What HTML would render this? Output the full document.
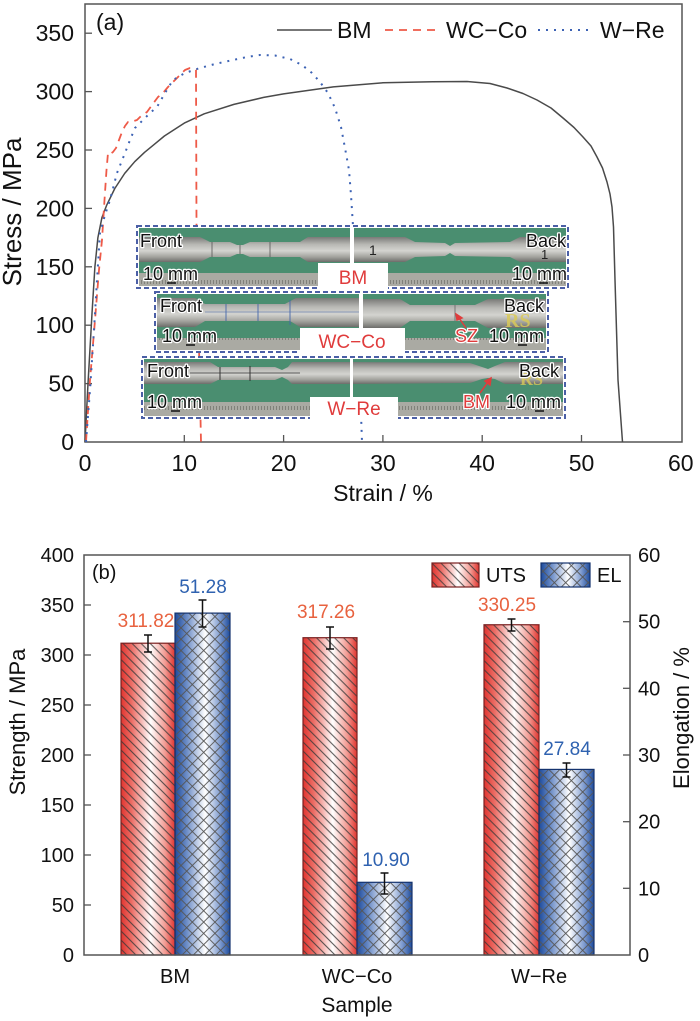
<!DOCTYPE html>
<html><head><meta charset="utf-8"><style>html,body{margin:0;padding:0;background:#fff}svg{display:block}</style></head>
<body>
<svg width="700" height="1021" viewBox="0 0 700 1021" xmlns="http://www.w3.org/2000/svg" font-family="'Liberation Sans', Arial, sans-serif">
<defs>
  <linearGradient id="gU" x1="0" y1="0" x2="1" y2="0">
    <stop offset="0" stop-color="#e0342f"/><stop offset="0.2" stop-color="#ec6e66"/>
    <stop offset="0.55" stop-color="#ffffff"/><stop offset="0.82" stop-color="#f29a92"/>
    <stop offset="1" stop-color="#e0342f"/>
  </linearGradient>
  <linearGradient id="gE" x1="0" y1="0" x2="1" y2="0">
    <stop offset="0" stop-color="#1d4b9c"/><stop offset="0.22" stop-color="#6f8fc8"/>
    <stop offset="0.55" stop-color="#ffffff"/><stop offset="0.82" stop-color="#7f9cd0"/>
    <stop offset="1" stop-color="#1d4b9c"/>
  </linearGradient>
  <pattern id="hU" width="6.4" height="6.4" patternUnits="userSpaceOnUse" patternTransform="rotate(45)">
    <line x1="0" y1="3.2" x2="6.4" y2="3.2" stroke="#3a3a3a" stroke-width="0.9"/>
  </pattern>
  <pattern id="hE" width="8" height="8" patternUnits="userSpaceOnUse" patternTransform="rotate(45)">
    <line x1="0" y1="4" x2="8" y2="4" stroke="#555" stroke-width="0.9"/>
    <line x1="4" y1="0" x2="4" y2="8" stroke="#555" stroke-width="0.9"/>
  </pattern>
  <linearGradient id="spec" x1="0" y1="0" x2="0" y2="1">
    <stop offset="0" stop-color="#7a7a78"/><stop offset="0.3" stop-color="#b8b8b4"/>
    <stop offset="0.55" stop-color="#d4d4d0"/><stop offset="0.8" stop-color="#a2a29d"/>
    <stop offset="1" stop-color="#6d6d6a"/>
  </linearGradient>
  <pattern id="rt" width="3" height="14" patternUnits="userSpaceOnUse">
    <rect x="0" y="0" width="3" height="14" fill="#aaaaa3"/>
    <line x1="0.5" y1="0" x2="0.5" y2="4" stroke="#77776f" stroke-width="0.8"/>
  </pattern>
</defs>

<!-- ============ TOP CHART ============ -->
<rect x="85" y="4" width="597" height="438" fill="none" stroke="#555" stroke-width="1.5"/>
<g stroke="#555" stroke-width="1.3">
  <line x1="85" y1="383.6" x2="92" y2="383.6"/><line x1="85" y1="325.2" x2="92" y2="325.2"/>
  <line x1="85" y1="266.8" x2="92" y2="266.8"/><line x1="85" y1="208.4" x2="92" y2="208.4"/>
  <line x1="85" y1="150" x2="92" y2="150"/><line x1="85" y1="91.6" x2="92" y2="91.6"/>
  <line x1="85" y1="33.2" x2="92" y2="33.2"/>
  <line x1="184.3" y1="442" x2="184.3" y2="435"/><line x1="283.6" y1="442" x2="283.6" y2="435"/>
  <line x1="382.9" y1="442" x2="382.9" y2="435"/><line x1="482.2" y1="442" x2="482.2" y2="435"/>
  <line x1="581.5" y1="442" x2="581.5" y2="435"/>
</g>
<g font-size="23" fill="#111" text-anchor="end">
  <text x="74" y="450">0</text><text x="74" y="391.6">50</text><text x="74" y="333.2">100</text>
  <text x="74" y="274.8">150</text><text x="74" y="216.4">200</text><text x="74" y="158">250</text>
  <text x="74" y="99.6">300</text><text x="74" y="41.2">350</text>
</g>
<g font-size="23" fill="#111" text-anchor="middle">
  <text x="85" y="471">0</text><text x="184.3" y="471">10</text><text x="283.6" y="471">20</text>
  <text x="382.9" y="471">30</text><text x="482.2" y="471">40</text><text x="581.5" y="471">50</text>
  <text x="680.8" y="471">60</text>
  <text x="383" y="501">Strain / %</text>
</g>
<text transform="translate(21,212) rotate(-90)" font-size="26" fill="#111" text-anchor="middle">Stress / MPa</text>
<text x="96" y="30" font-size="23" fill="#111">(a)</text>

<!-- legend -->
<line x1="277" y1="30" x2="332" y2="30" stroke="#4a4a4a" stroke-width="1.5"/>
<text x="337" y="38" font-size="23" fill="#111">BM</text>
<line x1="385" y1="30" x2="440" y2="30" stroke="#ee5a48" stroke-width="1.8" stroke-dasharray="8 6"/>
<text x="446" y="38" font-size="23" fill="#111">WC−Co</text>
<line x1="538" y1="30" x2="589" y2="30" stroke="#3c62b4" stroke-width="2" stroke-dasharray="2 6"/>
<text x="600" y="38" font-size="23" fill="#111">W−Re</text>

<!-- curves -->
<polyline fill="none" stroke="#4a4a4a" stroke-width="1.5" stroke-linejoin="round"
 points="85,442 88,383.6 92,313.5 94.9,266.8 97.9,237.6 101.9,217.7 106.8,204.9 114.8,188.5 124.7,173.4 134.7,161.7 144.6,152.3 154.5,144.2 164.4,136 184.3,123.1 204.2,113.8 233.9,104.4 263.7,97.4 283.6,93.9 333.3,86.9 382.9,82.8 432.6,81.8 467,81.5 490,83.5 507,88 523,93.5 537,100 551,108 563,118 574,127.5 583,137 591,146 597,157 602.5,168 607,182 610,194 612,207 613.5,227 615,280 618,380 622.5,442"/>
<polyline fill="none" stroke="#ee5a48" stroke-width="1.8" stroke-dasharray="8 6" stroke-linejoin="round"
 points="86,442 90,380 95,320 99,270 102,240 104.5,200 106.5,170 108,153 110,154 113,152 116,148 119,140 122,132 125,126 128,122 131,122 134,121 137,120 141,116 147,112 152,105 158,97 163,93 168,87 173,82 178,77 185,70 190,68 194,69 196,70 196.5,226 201,442"/>
<polyline fill="none" stroke="#3c62b4" stroke-width="2" stroke-dasharray="2 6" stroke-linejoin="round"
 points="86,442 90,390 94,330 97,280 100,233 105,215 110,200 117,173 125,153 130,140 135,128 143,120 150,113 157,107 165,93 173,80 185,73 200,68 215,64 233,60 247,57 260,55 275,55.5 290,59 302,65 312,73 320,82 328,93 335,108 341,127 345,148 349,170 351,195 353,226 358,330 362,442"/>

<!-- ===== inset photos ===== -->
<g>
  <!-- Row 1 -->
  <rect x="137" y="226" width="431" height="62" fill="#fff"/>
  <rect x="139" y="228" width="211" height="58" fill="#4a8e70"/>
  <polygon fill="url(#spec)" points="139,237 200,237 210,242 230,242 237,245 243,245 250,242 300,242 308,237 350,237 350,262 308,262 300,257 250,257 243,254 237,254 230,257 210,257 200,262 139,262"/>
  <g stroke="#555" stroke-width="0.8"><line x1="212" y1="242" x2="212" y2="257"/><line x1="240" y1="245" x2="240" y2="254"/><line x1="270" y1="242" x2="270" y2="257"/></g>
  <rect x="139" y="273" width="211" height="13" fill="url(#rt)"/>
  <rect x="354" y="228" width="212" height="58" fill="#4a8e70"/>
  <polygon fill="url(#spec)" points="354,237 405,237 415,242 445,243 450,246 455,243 510,242 520,237 566,237 566,262 520,262 510,257 455,256 450,253 445,256 415,257 405,262 354,262"/>
  <rect x="354" y="273" width="212" height="13" fill="url(#rt)"/>
  <text x="369" y="255" font-size="14" fill="#222">1</text><text x="541" y="259" font-size="13" fill="#222">1</text>
  <rect x="137" y="226" width="431" height="62" fill="none" stroke="#4b5fa6" stroke-width="2" stroke-dasharray="5 3"/>
  <rect x="318" y="263" width="70" height="27" fill="#fff"/>
  <text x="353" y="284" font-size="19" fill="#e03c3c" text-anchor="middle">BM</text>

  <!-- Row 2 -->
  <rect x="155" y="292" width="393" height="60" fill="#fff"/>
  <rect x="157" y="294" width="202" height="56" fill="#4a8e70"/>
  <polygon fill="url(#spec)" points="157,298 195,298 205,304 285,304 296,298 359,298 359,327 300,327 290,321 205,321 195,327 157,327"/>
  <g stroke="#4466aa" stroke-width="0.9"><line x1="226" y1="304" x2="226" y2="321"/><line x1="258" y1="304" x2="258" y2="321"/><line x1="290" y1="300" x2="290" y2="325"/><line x1="205" y1="312" x2="359" y2="312" stroke-width="0.5"/></g>
  <rect x="157" y="338" width="202" height="12" fill="url(#rt)"/>
  <rect x="363" y="294" width="183" height="56" fill="#4a8e70"/>
  <polygon fill="url(#spec)" points="363,299 400,299 410,305 475,305 488,299 546,299 546,328 488,328 475,321 410,321 400,328 363,328"/>
  <line x1="455" y1="305" x2="455" y2="321" stroke="#666" stroke-width="0.8"/>
  <rect x="363" y="338" width="183" height="12" fill="url(#rt)"/>
  <text x="505" y="327" font-size="20" font-weight="bold" font-family="'Liberation Serif', serif" fill="#d9c95a" opacity="0.85">RS</text>
  <rect x="155" y="292" width="393" height="60" fill="none" stroke="#4b5fa6" stroke-width="2" stroke-dasharray="5 3"/>
  <rect x="300" y="328" width="105" height="26" fill="#fff"/>
  <text x="352" y="348" font-size="19" fill="#e03c3c" text-anchor="middle">WC−Co</text>

  <!-- Row 3 -->
  <rect x="142" y="357" width="423" height="61" fill="#fff"/>
  <rect x="144" y="359" width="206" height="57" fill="#4a8e70"/>
  <polygon fill="url(#spec)" points="144,362 210,362 218,367 275,367 282,370 288,367 292,362 350,362 350,384 292,384 288,380 282,377 275,380 218,380 210,384 144,384"/>
  <g stroke="#333" stroke-width="1"><line x1="220" y1="367" x2="220" y2="380"/><line x1="250" y1="366" x2="250" y2="381"/><line x1="190" y1="373" x2="300" y2="373" stroke-width="0.8"/></g>
  <rect x="144" y="402" width="206" height="14" fill="url(#rt)"/>
  <rect x="353" y="359" width="210" height="57" fill="#4a8e70"/>
  <polygon fill="url(#spec)" points="353,362 470,363 482,367 488,369 495,366 505,362 563,362 563,384 505,384 495,379 488,378 482,379 470,383 353,384"/>
  <rect x="353" y="402" width="210" height="14" fill="url(#rt)"/>
  <text x="520" y="385" font-size="18" font-weight="bold" font-family="'Liberation Serif', serif" fill="#d9c95a" opacity="0.8">RS</text>
  <rect x="142" y="357" width="423" height="61" fill="none" stroke="#4b5fa6" stroke-width="2" stroke-dasharray="5 3"/>
  <rect x="310" y="397" width="88" height="23" fill="#fff"/>
  <text x="354" y="415" font-size="19" fill="#e03c3c" text-anchor="middle">W−Re</text>

  <!-- photo labels -->
  <g font-size="18" fill="#111" stroke="#fff" stroke-width="2.5" paint-order="stroke" stroke-linejoin="round">
    <text x="140" y="247">Front</text><text x="143" y="280">10 mm</text>
    <text x="566" y="247" text-anchor="end">Back</text><text x="567" y="280" text-anchor="end">10 mm</text>
    <text x="160" y="312">Front</text><text x="162" y="342">10 mm</text>
    <text x="544" y="312" text-anchor="end">Back</text><text x="544" y="342" text-anchor="end">10 mm</text>
    <text x="147" y="377">Front</text><text x="147" y="408">10 mm</text>
    <text x="559" y="377" text-anchor="end">Back</text><text x="561" y="408" text-anchor="end">10 mm</text>
  </g>
  <g stroke="#111" stroke-width="1.5">
    <line x1="167" y1="283" x2="176" y2="283"/><line x1="539" y1="283" x2="548" y2="283"/>
    <line x1="186" y1="345" x2="195" y2="345"/><line x1="518" y1="345" x2="527" y2="345"/>
    <line x1="171" y1="411" x2="180" y2="411"/><line x1="535" y1="411" x2="544" y2="411"/>
  </g>
  <g font-size="18" fill="#e03c3c" stroke="#fff" stroke-width="2.5" paint-order="stroke">
    <text x="455" y="342">SZ</text><text x="463" y="408">BM</text>
  </g>
  <g stroke="#e03c3c" stroke-width="1.5" fill="#e03c3c">
    <line x1="466" y1="328" x2="459" y2="318"/><polygon points="456,314 462,318 457,320"/>
    <line x1="480" y1="393" x2="488" y2="382"/><polygon points="491,378 490,385 485,381"/>
  </g>
</g>

<!-- ============ BOTTOM CHART ============ -->
<!-- bars -->
<g stroke="none">
  <rect x="121" y="643.2" width="54" height="311.8" fill="url(#gU)"/><rect x="121" y="643.2" width="54" height="311.8" fill="url(#hU)"/>
  <rect x="175" y="613.1" width="55" height="341.9" fill="url(#gE)"/><rect x="175" y="613.1" width="55" height="341.9" fill="url(#hE)"/>
  <rect x="303" y="637.7" width="54" height="317.3" fill="url(#gU)"/><rect x="303" y="637.7" width="54" height="317.3" fill="url(#hU)"/>
  <rect x="357" y="882.3" width="55" height="72.7" fill="url(#gE)"/><rect x="357" y="882.3" width="55" height="72.7" fill="url(#hE)"/>
  <rect x="484" y="624.75" width="55" height="330.25" fill="url(#gU)"/><rect x="484" y="624.75" width="55" height="330.25" fill="url(#hU)"/>
  <rect x="539" y="769.4" width="55" height="185.6" fill="url(#gE)"/><rect x="539" y="769.4" width="55" height="185.6" fill="url(#hE)"/>
</g>
<g fill="none" stroke-width="1.2">
  <rect x="121" y="643.2" width="54" height="311.8" stroke="#7a2020"/>
  <rect x="175" y="613.1" width="55" height="341.9" stroke="#14336e"/>
  <rect x="303" y="637.7" width="54" height="317.3" stroke="#7a2020"/>
  <rect x="357" y="882.3" width="55" height="72.7" stroke="#14336e"/>
  <rect x="484" y="624.75" width="55" height="330.25" stroke="#7a2020"/>
  <rect x="539" y="769.4" width="55" height="185.6" stroke="#14336e"/>
</g>
<!-- error bars -->
<g stroke="#111" stroke-width="1.5">
  <line x1="148" y1="635" x2="148" y2="652"/><line x1="144" y1="635" x2="152" y2="635"/><line x1="144" y1="652" x2="152" y2="652"/>
  <line x1="202.5" y1="600" x2="202.5" y2="627"/><line x1="198.5" y1="600" x2="206.5" y2="600"/><line x1="198.5" y1="627" x2="206.5" y2="627"/>
  <line x1="330" y1="627" x2="330" y2="649"/><line x1="326" y1="627" x2="334" y2="627"/><line x1="326" y1="649" x2="334" y2="649"/>
  <line x1="384.5" y1="873" x2="384.5" y2="894"/><line x1="380.5" y1="873" x2="388.5" y2="873"/><line x1="380.5" y1="894" x2="388.5" y2="894"/>
  <line x1="511.5" y1="619" x2="511.5" y2="631"/><line x1="507.5" y1="619" x2="515.5" y2="619"/><line x1="507.5" y1="631" x2="515.5" y2="631"/>
  <line x1="566.5" y1="763" x2="566.5" y2="777"/><line x1="562.5" y1="763" x2="570.5" y2="763"/><line x1="562.5" y1="777" x2="570.5" y2="777"/>
</g>
<!-- values -->
<g font-size="19" text-anchor="middle">
  <text x="146" y="627" fill="#e8623f">311.82</text>
  <text x="203" y="593" fill="#2f62b0">51.28</text>
  <text x="326" y="618" fill="#e8623f">317.26</text>
  <text x="386" y="866" fill="#2f62b0">10.90</text>
  <text x="507" y="611" fill="#e8623f">330.25</text>
  <text x="567" y="755" fill="#2f62b0">27.84</text>
</g>
<!-- axes -->
<rect x="84" y="555" width="546" height="400" fill="none" stroke="#555" stroke-width="1.5"/>
<g stroke="#555" stroke-width="1.3">
  <line x1="84" y1="905" x2="91" y2="905"/><line x1="84" y1="855" x2="91" y2="855"/><line x1="84" y1="805" x2="91" y2="805"/>
  <line x1="84" y1="755" x2="91" y2="755"/><line x1="84" y1="705" x2="91" y2="705"/><line x1="84" y1="655" x2="91" y2="655"/>
  <line x1="84" y1="605" x2="91" y2="605"/>
  <line x1="630" y1="888.3" x2="623" y2="888.3"/><line x1="630" y1="821.7" x2="623" y2="821.7"/><line x1="630" y1="755" x2="623" y2="755"/>
  <line x1="630" y1="688.3" x2="623" y2="688.3"/><line x1="630" y1="621.7" x2="623" y2="621.7"/>
</g>
<g font-size="20" fill="#111" text-anchor="end">
  <text x="74" y="962">0</text><text x="74" y="912">50</text><text x="74" y="862">100</text>
  <text x="74" y="812">150</text><text x="74" y="762">200</text><text x="74" y="712">250</text>
  <text x="74" y="662">300</text><text x="74" y="612">350</text><text x="74" y="562">400</text>
</g>
<g font-size="20" fill="#111">
  <text x="638" y="962">0</text><text x="638" y="895.3">10</text><text x="638" y="828.7">20</text>
  <text x="638" y="762">30</text><text x="638" y="695.3">40</text><text x="638" y="628.7">50</text>
  <text x="638" y="562">60</text>
</g>
<g font-size="20" fill="#111" text-anchor="middle">
  <text x="175" y="983">BM</text><text x="357" y="983">WC−Co</text><text x="539" y="983">W−Re</text>
</g>
<text x="357" y="1012" font-size="21" fill="#111" text-anchor="middle">Sample</text>
<text transform="translate(25,722) rotate(-90)" font-size="22" fill="#111" text-anchor="middle">Strength / MPa</text>
<text transform="translate(689,718) rotate(-90)" font-size="22" fill="#111" text-anchor="middle">Elongation / %</text>
<text x="92" y="579" font-size="20" fill="#111">(b)</text>

<!-- legend b -->
<rect x="432" y="563" width="47" height="24" fill="url(#gU)"/><rect x="432" y="563" width="47" height="24" fill="url(#hU)"/>
<rect x="432" y="563" width="47" height="24" fill="none" stroke="#7a2020" stroke-width="1.2"/>
<text x="486" y="582" font-size="20" fill="#111">UTS</text>
<rect x="541" y="563" width="49" height="24" fill="url(#gE)"/><rect x="541" y="563" width="49" height="24" fill="url(#hE)"/>
<rect x="541" y="563" width="49" height="24" fill="none" stroke="#14336e" stroke-width="1.2"/>
<text x="597" y="582" font-size="20" fill="#111">EL</text>
</svg>
</body></html>
